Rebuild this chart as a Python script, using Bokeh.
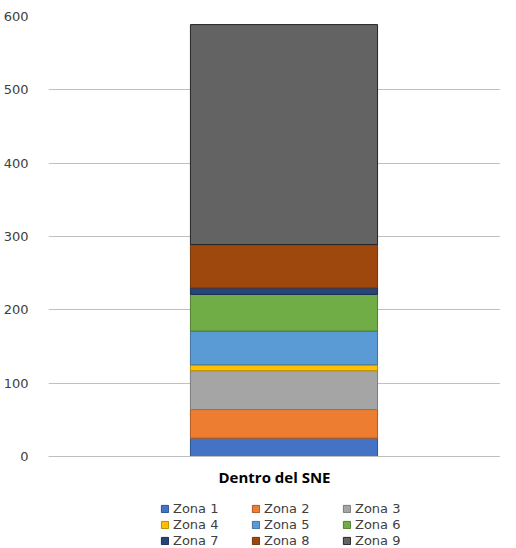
from bokeh.plotting import figure
from bokeh.models import Range1d, Legend, LegendItem
from bokeh.transform import dodge
from bokeh.layouts import column
from bokeh.embed import file_html
from bokeh.resources import INLINE

categories = ["Dentro del SNE"]
zones = ["Zona 1", "Zona 2", "Zona 3", "Zona 4", "Zona 5", "Zona 6", "Zona 7", "Zona 8", "Zona 9"]
values = [25, 39, 53, 8, 46, 50, 9, 59, 300]
fill_colors = ["#4472C4", "#ED7D31", "#A5A5A5", "#FFC000", "#5B9BD5", "#70AD47", "#264478", "#9E480E", "#636363"]
line_colors = ["#2F528F", "#AE5A21", "#7C7C7C", "#BC8C00", "#41719C", "#507E32", "#1A2F55", "#733509", "#262626"]
y_ticks = [0, 100, 200, 300, 400, 500, 600]

data = {"cat": categories}
for z, v in zip(zones, values):
    data[z] = [v]

# main chart
p = figure(x_range=categories, y_range=Range1d(0, 600), width=500, height=489,
           output_backend="svg", toolbar_location=None,
           min_border_left=40, min_border_right=0, min_border_top=16, min_border_bottom=20)
p.outline_line_color = None

renderers = p.vbar_stack(zones, x=dodge("cat", 0.021, range=p.x_range), width=0.414, source=data,
                         fill_color=fill_colors, line_color=line_colors, line_width=1)

p.yaxis.ticker = y_ticks
p.yaxis.axis_line_color = None
p.yaxis.major_tick_line_color = None
p.yaxis.minor_tick_line_color = None
p.yaxis.major_label_standoff = 14
p.yaxis.major_label_text_font = "DejaVu Sans"
p.yaxis.major_label_text_font_size = "13px"
p.yaxis.major_label_text_color = "#404040"

p.xaxis.axis_line_color = "#BFBFBF"
p.xaxis.major_tick_line_color = None
p.xaxis.major_label_standoff = 4
p.xaxis.major_label_text_font = "Open Sans"
p.xaxis.major_label_text_font_style = "bold"
p.xaxis.major_label_text_font_size = "15px"
p.xaxis.major_label_text_color = "#000000"

p.xgrid.grid_line_color = None
p.ygrid.grid_line_color = "#C0C0C0"
p.ygrid.grid_line_width = 1

# legend strip (same series, bars kept out of its visible range)
q = figure(x_range=categories, y_range=Range1d(10000, 10001), width=500, height=59,
           output_backend="svg", toolbar_location=None,
           x_axis_location=None, y_axis_location=None,
           min_border_left=0, min_border_right=0, min_border_top=0, min_border_bottom=0)
q.outline_line_color = None
q.grid.visible = False
leg_renderers = q.vbar_stack(zones, x="cat", width=0.41, source=data,
                             fill_color=fill_colors, line_color=line_colors, line_width=1)

items = [LegendItem(label=z, renderers=[r]) for z, r in zip(zones, leg_renderers)]
legend = Legend(items=items, orientation="horizontal", ncols=3,
                glyph_width=9, glyph_height=9, label_standoff=4, label_width=77,
                spacing=1, padding=0, margin=0,
                label_text_font="DejaVu Sans", label_text_font_size="13px",
                label_text_color="#404040", label_height=12,
                border_line_color=None, background_fill_alpha=0,
                location=(112, 0))
q.add_layout(legend, "center")

layout = column(p, q, spacing=0)
open("out.html", "w").write(file_html(layout, INLINE))
